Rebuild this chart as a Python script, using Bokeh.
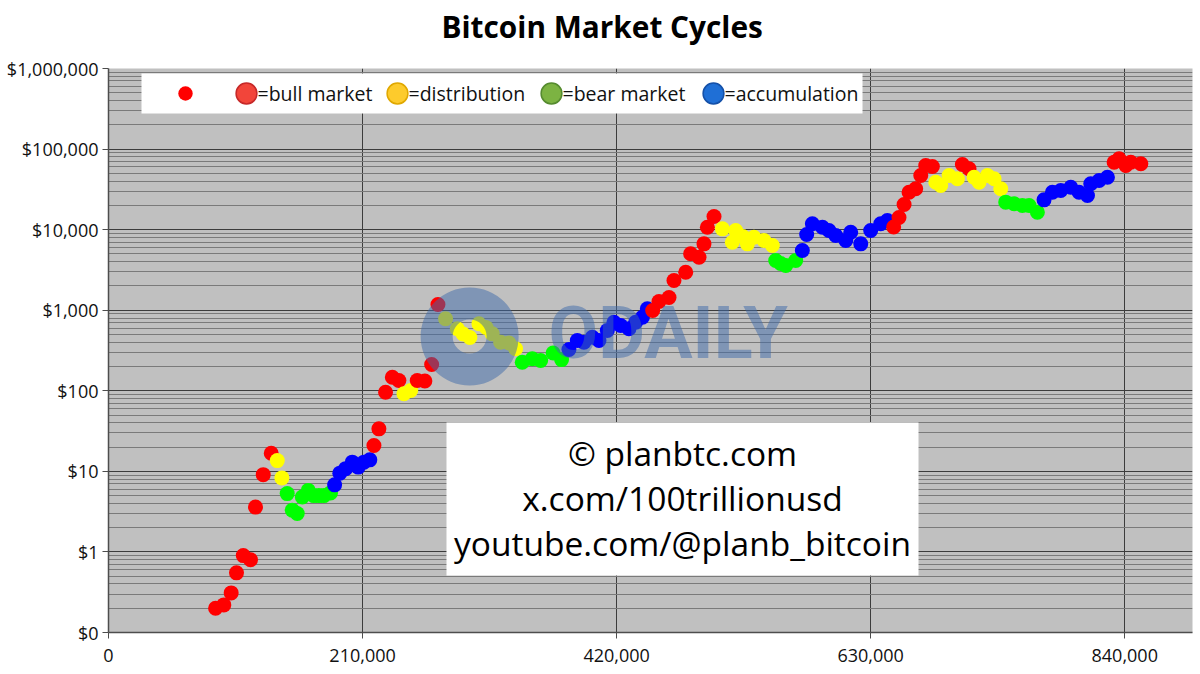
from bokeh.plotting import figure
from bokeh.models import (ColumnDataSource, FixedTicker, CustomJSTickFormatter, Range1d,
                          Legend, LegendItem, BoxAnnotation, Label, Title)
from bokeh.transform import factor_cmap
from bokeh.embed import file_html
from bokeh.resources import INLINE

# ---------------- data (block height, BTC price in USD, market-cycle phase) ----------------
block_height = [
    88500, 95300, 101400, 105800, 111400, 117400, 121500, 127900, 134500,
    139500, 143300,
    147700, 151900, 156000, 160200, 165100, 169700, 173900, 178000, 183500,
    186900, 191200, 196000, 201500, 206400, 211100, 216000,
    219400, 223500, 229000, 234600, 240000,
    244200, 249800,
    255200, 261500, 267100, 272300,
    278600, 288300, 293100, 298700, 306200, 312100, 317200, 324100, 331000, 336500,
    342000, 350300, 357200, 367500, 374500,
    380600, 387500, 393000, 399900, 405400, 412300, 417800, 423300, 430200, 435700, 441300, 445400,
    449800, 455000, 463300, 467400, 477100, 481200, 488100, 492200, 495000, 500500,
    507400, 515600, 518400, 524200, 528100, 533500, 541800, 548700,
    551500, 555600, 559800, 568000,
    573500, 577100, 581800, 590100, 595500, 601100, 609400, 613500, 621800, 630000, 638300, 643800,
    649000, 653400, 657600, 661700, 667200, 671400, 675500, 681000,
    683800, 687900, 694800, 701700,
    705800, 711300,
    715400, 719600, 726500, 732000, 737500,
    741600, 748500, 755400, 760900, 767800,
    773300, 780200, 787100, 795400, 802200, 809200, 811900, 818800, 825700,
    831200, 835300, 840900, 845000, 853300,
]
price_usd = [
    0.20, 0.22, 0.31, 0.55, 0.90, 0.80, 3.6, 9.1, 16.8,
    13.6, 8.3,
    5.3, 3.3, 3.0, 4.8, 5.8, 5.0, 5.0, 5.0, 5.4,
    6.8, 9.5, 10.8, 13.0, 11.3, 13.0, 13.9,
    20.9, 33.7, 96, 147, 134,
    92, 101,
    134, 132, 212, 1178,
    782, 588, 507, 458, 678, 610, 509, 401, 392, 332,
    226, 250, 238, 294, 244,
    325, 421, 401, 462, 421, 560, 710, 646, 588, 710, 818, 1040,
    991, 1282, 1438, 2339, 2965, 5012, 4550, 6668, 10715, 14550,
    10233, 6982, 9750, 8222, 6668, 8053, 7328, 6353,
    4140, 3800, 3589, 4140,
    5508, 8710, 11810, 10715, 9750, 8450, 7328, 9290, 6668, 9750, 11810, 12980,
    10790, 14160, 20510, 29170, 32140, 46990, 62520, 60810,
    38810, 35320, 46990, 42760,
    64270, 56890,
    44770, 38810, 46990, 42760, 32140,
    21930, 20940, 19950, 19950, 16450,
    23440, 29170, 30620, 33650, 29170, 26550, 37070, 40740, 44770,
    68710, 75680, 62520, 68710, 65610,
]
phase_runs = [
    ("bull", 9), ("distribution", 2), ("bear", 9), ("accumulation", 7),
    ("bull", 5), ("distribution", 2), ("bull", 4),
    ("distribution", 10), ("bear", 5), ("accumulation", 12),
    ("bull", 10), ("distribution", 8), ("bear", 4), ("accumulation", 12),
    ("bull", 8), ("distribution", 4), ("bull", 2), ("distribution", 5),
    ("bear", 5), ("accumulation", 9), ("bull", 5),
]
phase = [name for name, n in phase_runs for _ in range(n)]

phase_names = ["bull", "distribution", "bear", "accumulation"]
legend_labels = ["=bull market", "=distribution", "=bear market", "=accumulation"]

y_tick_values = [0.1, 1, 10, 100, 1000, 10000, 100000, 1000000]
y_tick_labels = ["$0", "$1", "$10", "$100", "$1,000", "$10,000", "$100,000", "$1,000,000"]
x_tick_values = [0, 210000, 420000, 630000, 840000]
x_tick_labels = ["0", "210,000", "420,000", "630,000", "840,000"]

title_text = "Bitcoin Market Cycles"
credit_lines = ["© planbtc.com", "x.com/100trillionusd", "youtube.com/@planb_bitcoin"]
watermark_text = "ODAILY"

# ---------------- styles ----------------
point_colors = ["#ff0000", "#ffff00", "#00ff00", "#0000ff"]
emoji_fill = ["#f2453a", "#fdcb2c", "#7cb342", "#1f6fd6"]
emoji_line = ["#c62828", "#e0a800", "#558b2f", "#1450a8"]
FONT = "Open Sans"

# legend layout (screen px, relative to the plot frame's bottom-left corner)
emoji_x = [138, 289, 443, 605]        # circle centres
legend_text_x = [149, 300, 454, 616]  # label starts
legend_y = 539

# ---------------- figure ----------------
p = figure(width=1200, height=674, y_axis_type="log",
           x_range=Range1d(0, 896000), y_range=Range1d(0.1, 1000000),
           output_backend="svg", toolbar_location=None,
           min_border_left=108, min_border_right=8, min_border_top=68, min_border_bottom=42,
           background_fill_color="#c0c0c0", border_fill_color="white",
           outline_line_color=None)
p.title = None

# thin spacer between the frame and the title, then the title itself (outermost)
p.add_layout(Title(text=" ", text_font_size="1px", standoff=11), "above")
p.add_layout(Title(text=title_text, align="left", offset=333, vertical_align="top",
                   standoff=11, text_font=FONT, text_font_size="29.8px",
                   text_font_style="bold", text_color="#000000"), "above")

minor = [m * 10 ** k for k in range(-1, 6) for m in range(2, 10)]
p.yaxis.ticker = FixedTicker(ticks=y_tick_values, minor_ticks=minor)
p.xaxis.ticker = FixedTicker(ticks=x_tick_values, minor_ticks=[])
p.yaxis.formatter = CustomJSTickFormatter(args=dict(vals=y_tick_values, labs=y_tick_labels), code="""
for (let i = 0; i < vals.length; i++) {
  if (Math.abs(Math.log10(tick) - Math.log10(vals[i])) < 1e-6) { return labs[i]; }
}
return "";
""")
p.xaxis.formatter = CustomJSTickFormatter(args=dict(vals=x_tick_values, labs=x_tick_labels), code="""
for (let i = 0; i < vals.length; i++) {
  if (Math.abs(tick - vals[i]) < 1e-6) { return labs[i]; }
}
return "";
""")

for ax in (p.xaxis, p.yaxis):
    ax.major_label_text_font = FONT
    ax.major_label_text_font_size = "18px"
    ax.major_label_text_color = "#111111"
    ax.axis_line_color = "#4d4d4d"
    ax.axis_line_width = 1.5
    ax.major_tick_line_color = "#4d4d4d"
    ax.major_tick_out = 6
    ax.major_tick_in = 0
    ax.minor_tick_out = 0
    ax.minor_tick_in = 0
p.yaxis.major_label_standoff = 4
p.xaxis.major_label_standoff = 10

p.ygrid.grid_line_color = "#3c3c3c"
p.ygrid.grid_line_width = 1
p.ygrid.minor_grid_line_color = "#7a7a7a"
p.ygrid.minor_grid_line_width = 1
p.xgrid.grid_line_color = "#3c3c3c"
p.xgrid.grid_line_width = 1

# ---------------- data points ----------------
src = ColumnDataSource(dict(block=block_height, price=price_usd, phase=phase))
pts = p.scatter("block", "price", source=src, size=15,
                fill_color=factor_cmap("phase", palette=point_colors, factors=phase_names),
                line_color=None)

# ---------------- watermark ----------------
p.annulus(x=[298500], y=[472], inner_radius=17, outer_radius=49,
          inner_radius_units="screen", outer_radius_units="screen",
          fill_color="#3e6aaa", fill_alpha=0.5, line_color=None)
p.add_layout(Label(x=440, y=299, x_units="screen", y_units="screen", text=watermark_text,
                   text_font="Roboto", text_font_size="72px", text_font_style="bold",
                   text_color="#3e6aaa", text_alpha=0.5, text_baseline="alphabetic"))

# ---------------- legend ----------------
p.add_layout(BoxAnnotation(left=33, right=754, top=559, bottom=519,
                           left_units="screen", right_units="screen",
                           top_units="screen", bottom_units="screen",
                           fill_color="white", fill_alpha=1.0, line_color=None))

leg_common = dict(orientation="horizontal", background_fill_alpha=0, border_line_color=None,
                  padding=0, margin=0, label_standoff=0, label_width=0, spacing=0)
# series marker (no name)
p.add_layout(Legend(items=[LegendItem(label="", renderers=[pts], index=0)],
                    location=(77 - 18, legend_y - 18), glyph_width=36, glyph_height=36,
                    **leg_common))
# coloured circle keys
nan = float("nan")
for cx, fc, lc in zip(emoji_x, emoji_fill, emoji_line):
    r = p.scatter(x=[nan], y=[nan], size=20, fill_color=fc, line_color=lc, line_width=1.5)
    p.add_layout(Legend(items=[LegendItem(label="", renderers=[r])],
                        location=(cx - 26, legend_y - 26), glyph_width=52, glyph_height=52,
                        **leg_common))
for lab, tx in zip(legend_labels, legend_text_x):
    p.add_layout(Label(x=tx, y=legend_y, x_units="screen", y_units="screen", text=lab,
                       text_font=FONT, text_font_size="19.5px", text_color="#111111",
                       text_baseline="middle", text_align="left"))

# ---------------- credit box ----------------
p.add_layout(BoxAnnotation(left=338, right=810, top=210, bottom=57,
                           left_units="screen", right_units="screen",
                           top_units="screen", bottom_units="screen",
                           fill_color="white", fill_alpha=1.0, line_color=None))
for txt, yb in zip(credit_lines, [180, 135, 90]):
    p.add_layout(Label(x=574, y=yb, x_units="screen", y_units="screen", text=txt,
                       text_align="center", text_baseline="alphabetic",
                       text_font=FONT, text_font_size="33.5px", text_color="#000000"))

open("out.html", "w").write(file_html(p, INLINE))
